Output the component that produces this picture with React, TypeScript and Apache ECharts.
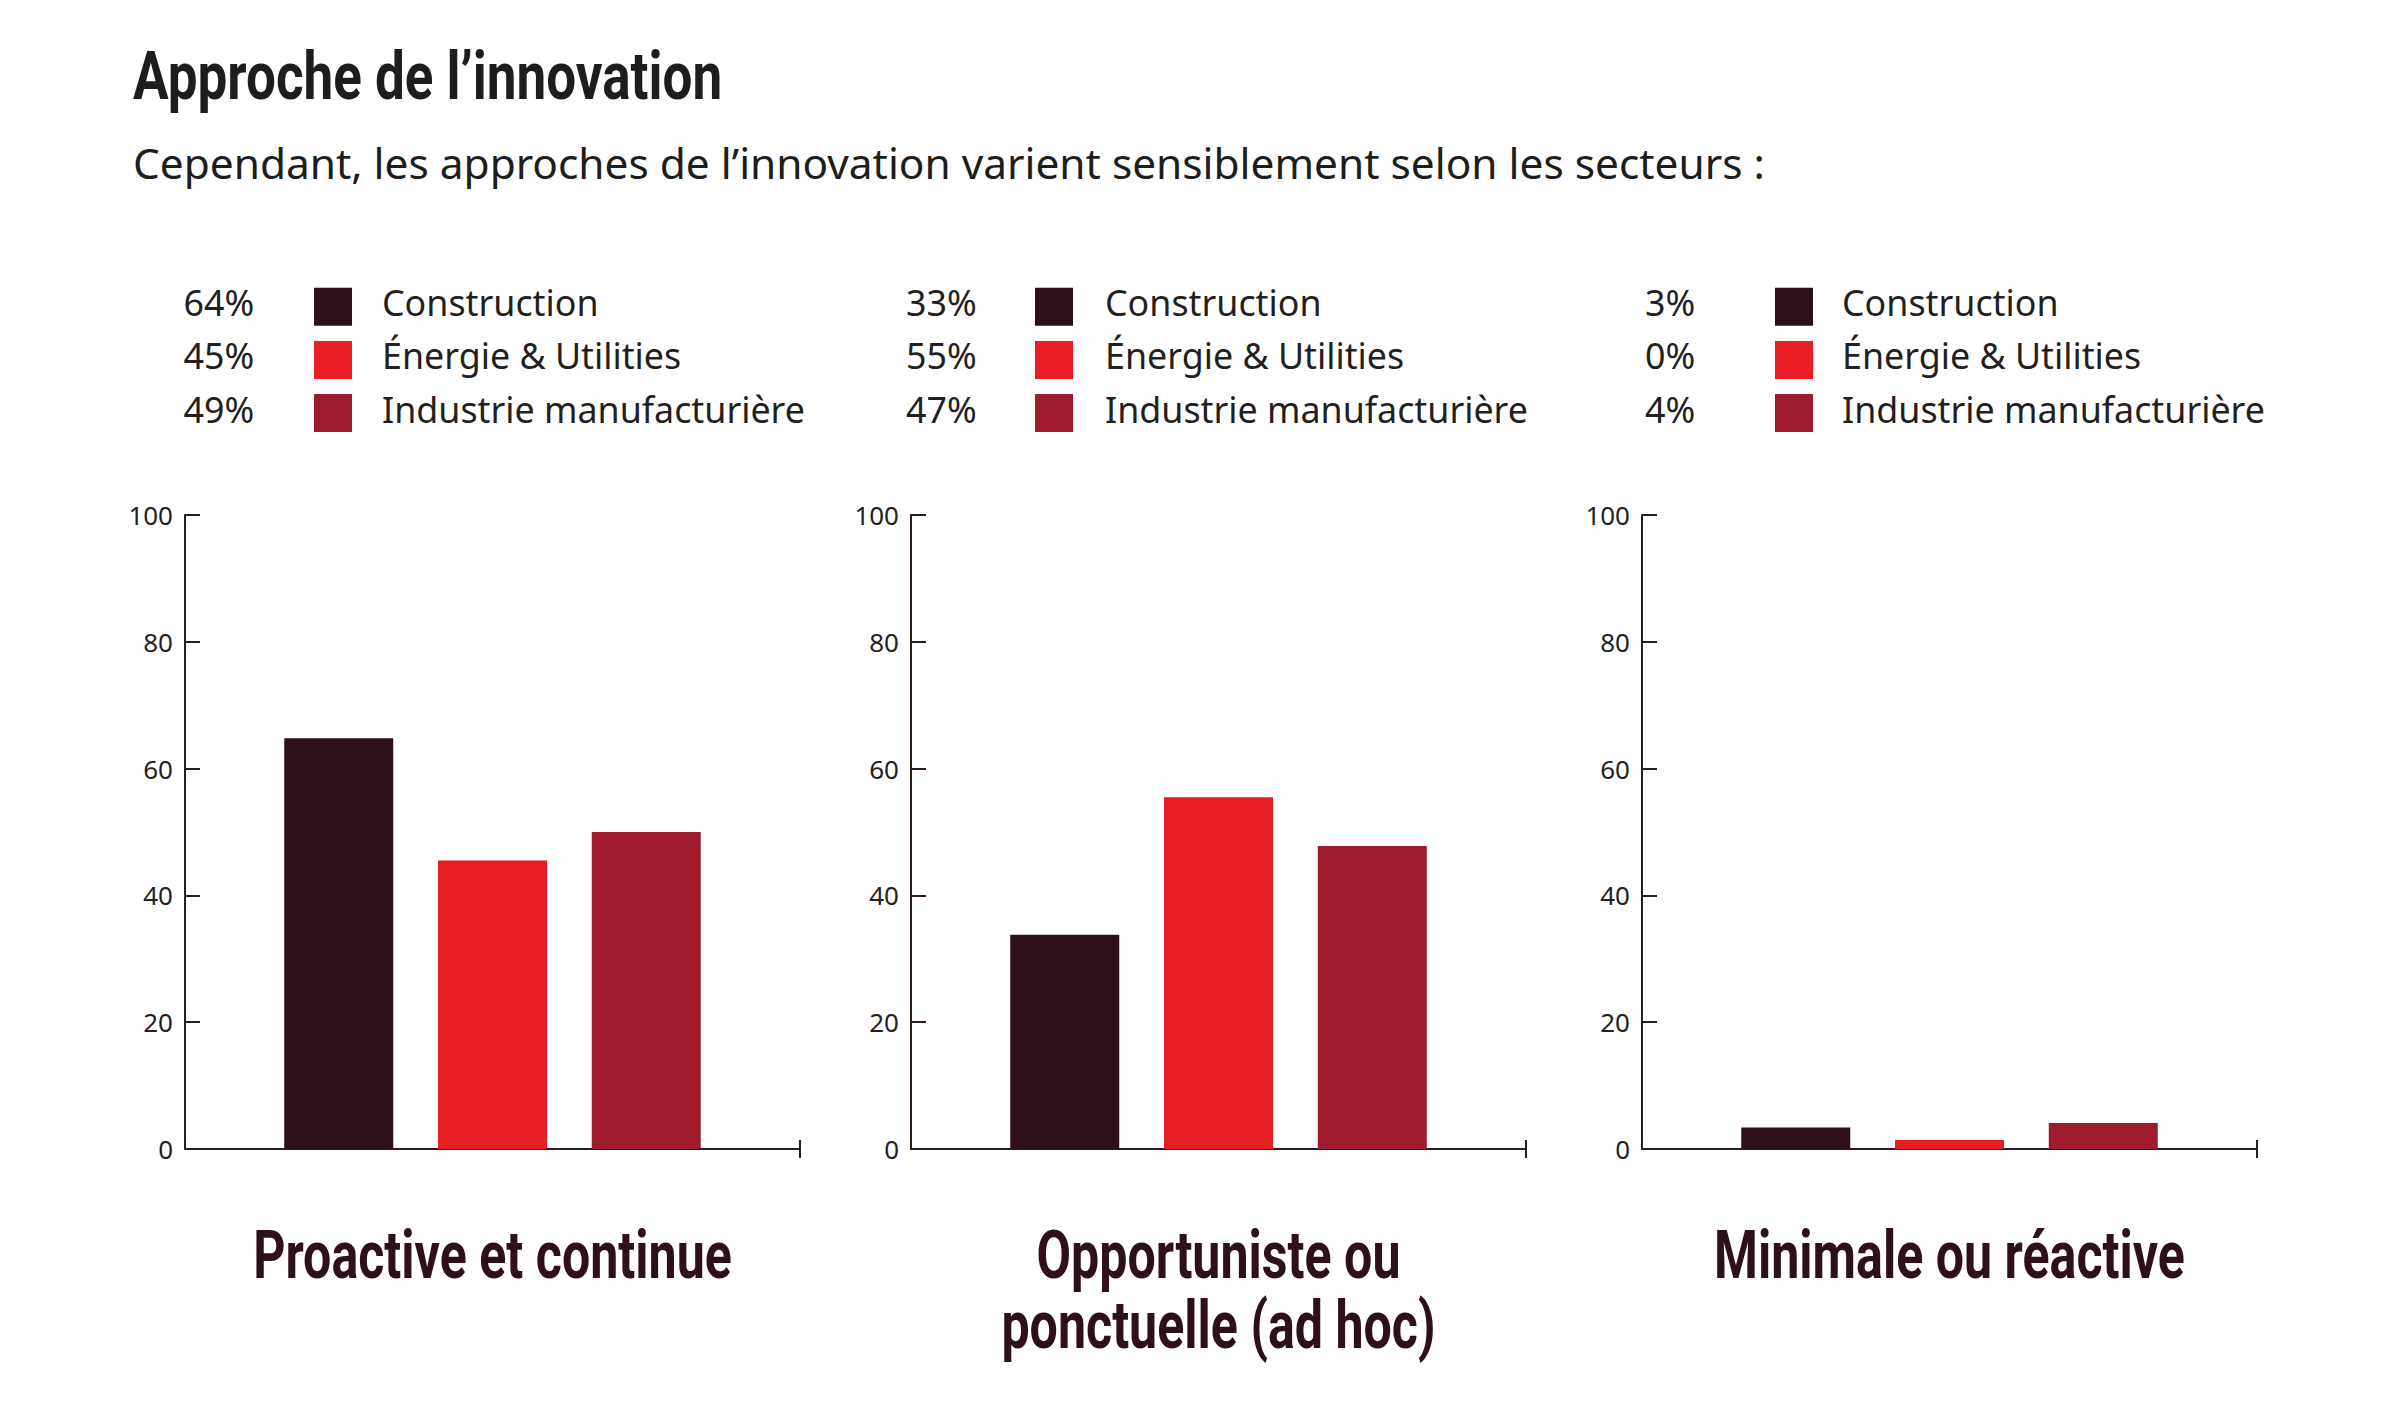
import React, { useEffect, useRef } from "react";
import * as echarts from "echarts";

// ---------- data ----------
const panelTitles: string[][] = [
  ["Proactive et continue"],
  ["Opportuniste ou", "ponctuelle (ad hoc)"],
  ["Minimale ou réactive"],
];
const sectors = ["Construction", "Énergie & Utilities", "Industrie manufacturière"];
const legendPercents: string[][] = [
  ["64%", "45%", "49%"],
  ["33%", "55%", "47%"],
  ["3%", "0%", "4%"],
];
const barValues: number[][] = [
  [64.8, 45.5, 50.0],
  [33.8, 55.5, 47.8],
  [3.4, 1.4, 4.1],
];
const yMin = 0;
const yMax = 100;
const yStep = 20;
const titleText = "Approche de l’innovation";
const subtitleText =
  "Cependant, les approches de l’innovation varient sensiblement selon les secteurs :";

// ---------- styles / layout ----------
const sectorColors = ["#2e1019", "#e91e25", "#9e1b2c"];
const axisColor = "#2b1a1f";
const textColor = "#231f20";
const headColor = "#2e1019";
const gridLefts = [185, 911, 1642];
const gridWidth = 615;
const gridTop = 515;
const gridHeight = 634;
const legendPctX = [183.5, 906, 1645];
const legendSqX = [314, 1035, 1775];
const legendLabelX = [382, 1105, 1842];
const legendRowY0 = 306.7;
const legendRowStep = 53.2;

const condensedFont = "Roboto";

export default function App() {
  const ref = useRef<HTMLDivElement>(null);

  useEffect(() => {
    document.body.style.margin = "0";
    if (!ref.current) return;
    const chart = echarts.init(ref.current, undefined, { renderer: "svg" });

    const catData = ["", ...sectors, ""];
    const grids = gridLefts.map((left) => ({
      left,
      top: gridTop,
      width: gridWidth,
      height: gridHeight,
      containLabel: false,
    }));

    const xAxes: any[] = [];
    gridLefts.forEach((_, i) => {
      xAxes.push({
        gridIndex: i,
        type: "category",
        data: catData,
        boundaryGap: false,
        axisLine: { show: true, lineStyle: { color: axisColor, width: 2 } },
        axisTick: {
          show: true,
          interval: (idx: number) => idx === catData.length - 1,
          inside: false,
          length: 9,
          lineStyle: { color: axisColor, width: 2 },
        },
        axisLabel: { show: false },
        splitLine: { show: false },
      });
    });
    gridLefts.forEach((_, i) => {
      xAxes.push({
        gridIndex: i,
        type: "category",
        data: catData,
        boundaryGap: false,
        position: "bottom",
        axisLine: { show: false },
        axisTick: {
          show: true,
          interval: (idx: number) => idx === catData.length - 1,
          inside: true,
          length: 9,
          lineStyle: { color: axisColor, width: 2 },
        },
        axisLabel: { show: false },
        splitLine: { show: false },
      });
    });

    const yAxes = gridLefts.map((_, i) => ({
      gridIndex: i,
      type: "value",
      min: yMin,
      max: yMax,
      interval: yStep,
      axisLine: { show: true, lineStyle: { color: axisColor, width: 2 } },
      axisTick: {
        show: true,
        inside: true,
        length: 15,
        lineStyle: { color: axisColor, width: 2 },
      },
      axisLabel: {
        fontFamily: "Noto Sans",
        fontSize: 26,
        color: textColor,
        margin: 12,
      },
      splitLine: { show: false },
    }));

    const series = barValues.map((vals, i) => ({
      type: "bar",
      xAxisIndex: i,
      yAxisIndex: i,
      barWidth: 109,
      data: ["-", ...vals.map((v, j) => ({ value: v, itemStyle: { color: sectorColors[j] } })), "-"],
    }));

    const graphics: any[] = [];
    // title
    graphics.push({
      type: "text",
      x: 133,
      y: 76.7,
      scaleX: 0.803,
      scaleY: 1,
      style: {
        text: titleText,
        fontFamily: condensedFont,
        fontWeight: "bold",
        fontSize: 66,
        fill: "#1d1d1b",
        align: "left",
        textAlign: "left",
        verticalAlign: "middle",
        textVerticalAlign: "middle",
      },
    });
    graphics.push({
      type: "text",
      x: 133,
      y: 162,
      style: {
        text: subtitleText,
        fontFamily: "Noto Sans",
        fontSize: 42.4,
        fill: "#1d1d1b",
        align: "left",
        textAlign: "left",
        verticalAlign: "middle",
        textVerticalAlign: "middle",
      },
    });
    // legends
    legendPercents.forEach((pcts, p) => {
      sectors.forEach((name, r) => {
        const cy = legendRowY0 + r * legendRowStep;
        graphics.push({
          type: "text",
          x: legendPctX[p],
          y: cy - 4.5,
          style: {
            text: pcts[r],
            fontFamily: "Noto Sans",
            fontSize: 35.8,
            fill: textColor,
            align: "left",
            textAlign: "left",
            verticalAlign: "middle",
            textVerticalAlign: "middle",
          },
        });
        graphics.push({
          type: "rect",
          shape: { x: legendSqX[p], y: cy - 19, width: 38, height: 38 },
          style: { fill: sectorColors[r] },
        });
        graphics.push({
          type: "text",
          x: legendLabelX[p],
          y: cy - 4.5,
          style: {
            text: name,
            fontFamily: "Noto Sans",
            fontSize: 35.8,
            fill: textColor,
            align: "left",
            textAlign: "left",
            verticalAlign: "middle",
            textVerticalAlign: "middle",
          },
        });
      });
    });
    // panel titles
    panelTitles.forEach((lines, p) => {
      const cx = gridLefts[p] + gridWidth / 2;
      lines.forEach((line, k) => {
        graphics.push({
          type: "text",
          x: cx,
          y: 1255.5 + k * 70,
          scaleX: 0.76,
          scaleY: 1,
          style: {
            text: line,
            fontFamily: condensedFont,
            fontWeight: "bold",
            fontSize: 66,
            fill: headColor,
            align: "center",
            textAlign: "center",
            verticalAlign: "middle",
            textVerticalAlign: "middle",
          },
        });
      });
    });

    chart.setOption({
      animation: false,
      backgroundColor: "#ffffff",
      grid: grids,
      xAxis: xAxes,
      yAxis: yAxes,
      series,
      graphic: { elements: graphics },
    });

    return () => chart.dispose();
  }, []);

  return <div ref={ref} style={{ width: 2397, height: 1412 }} />;
}
